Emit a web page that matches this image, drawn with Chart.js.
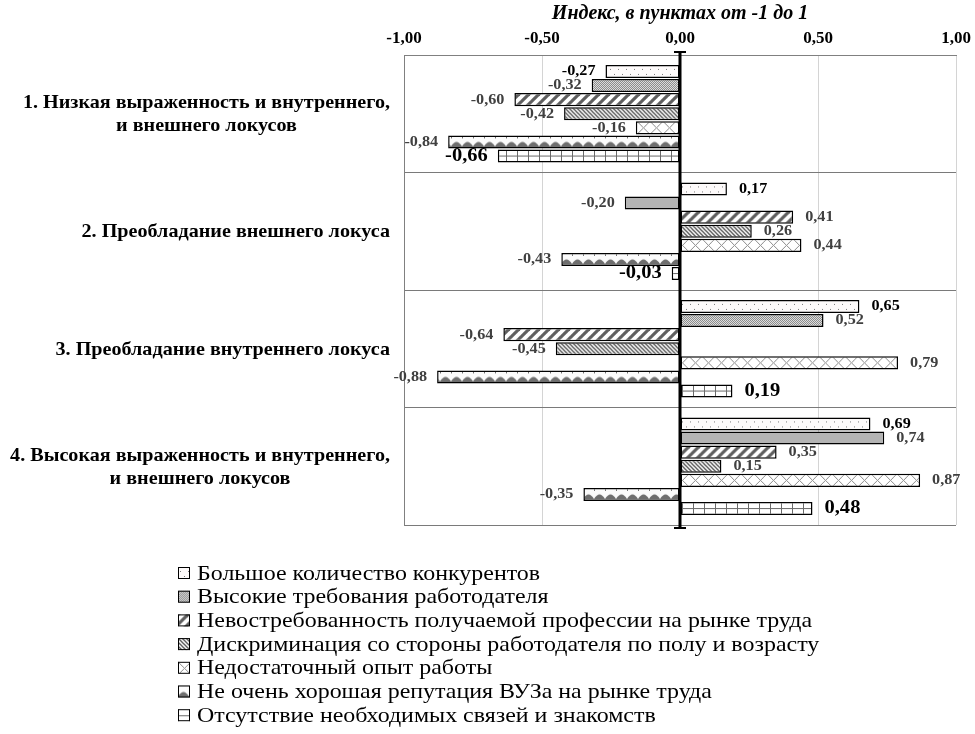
<!DOCTYPE html>
<html><head><meta charset="utf-8">
<script src="https://cdn.jsdelivr.net/npm/chart.js@4.4.1/dist/chart.umd.min.js"></script>
<style>html,body{margin:0;padding:0;background:#fff}#wrap{width:975px;height:734px;position:relative}</style>
</head><body><div id="wrap"><canvas id="c" width="975" height="734"></canvas></div>
<script>
const categories = [
  ["1. Низкая выраженность и внутреннего,", "и внешнего локусов"],
  ["2. Преобладание внешнего локуса"],
  ["3. Преобладание внутреннего локуса"],
  ["4. Высокая выраженность и внутреннего,", "и внешнего локусов"]
];
const seriesNames = [
  "Большое количество конкурентов",
  "Высокие требования работодателя",
  "Невостребованность получаемой профессии на рынке труда",
  "Дискриминация со стороны работодателя по полу и возрасту",
  "Недостаточный опыт работы",
  "Не очень хорошая репутация ВУЗа на рынке труда",
  "Отсутствие необходимых связей и знакомств"
];
const competitors   = [-0.27, 0.17, 0.65, 0.69];
const requirements  = [-0.32, -0.20, 0.52, 0.74];
const unclaimed     = [-0.60, 0.41, -0.64, 0.35];
const discrimination= [-0.42, 0.26, -0.45, 0.15];
const experience    = [-0.16, 0.44, 0.79, 0.87];
const reputation    = [-0.84, -0.43, -0.88, -0.35];
const connections   = [-0.66, -0.03, 0.19, 0.48];
const xTicks = [-1, -0.5, 0, 0.5, 1];
const axisTitle = "Индекс, в пунктах от -1 до 1";

const tiles = [];
function tile(w, h, draw) {
  const c = document.createElement('canvas'); c.width = w; c.height = h;
  const g = c.getContext('2d'); draw(g, w, h);
  const p = document.getElementById('c').getContext('2d').createPattern(c, 'repeat');
  tiles.push({ p, h });
  return p;
}
const patterns = [
  tile(8, 13, (g,w,h)=>{ g.fillStyle='#fdfafa'; g.fillRect(0,0,w,h); g.fillStyle='#7a7a7a'; g.fillRect(2,4,1,1); g.fillRect(6,9,1,1); }),
  tile(2, 2, (g,w,h)=>{ g.fillStyle='#dcdcdc'; g.fillRect(0,0,w,h); g.fillStyle='#8c8c8c'; g.fillRect(0,0,1,1); g.fillRect(1,1,1,1); }),
  tile(10, 10, (g,w,h)=>{ g.fillStyle='#fff'; g.fillRect(0,0,w,h); g.strokeStyle='#5f5f5f'; g.lineWidth=3.2;
    for (let k=-1;k<=1;k++){ g.beginPath(); g.moveTo(k*10-2, 12); g.lineTo(k*10+12, -2); g.stroke(); } }),
  tile(4, 4, (g,w,h)=>{ g.fillStyle='#fff'; g.fillRect(0,0,w,h); g.strokeStyle='#555'; g.lineWidth=1.3;
    for (let k=-1;k<=1;k++){ g.beginPath(); g.moveTo(k*4-1, -1); g.lineTo(k*4+5, 5); g.stroke(); } }),
  tile(13, 13, (g,w,h)=>{ g.fillStyle='#fff'; g.fillRect(0,0,w,h); g.strokeStyle='#8c8c8c'; g.lineWidth=1;
    g.beginPath(); g.moveTo(0,0); g.lineTo(13,13); g.moveTo(13,0); g.lineTo(0,13); g.stroke(); }),
  tile(11, 13, (g,w,h)=>{ g.fillStyle='#fbfbfb'; g.fillRect(0,0,w,h); g.fillStyle='#6e6e6e';
    g.beginPath(); g.moveTo(0,13); g.lineTo(0,11); g.quadraticCurveTo(5.5,2,11,11); g.lineTo(11,13); g.closePath(); g.fill();
    g.fillRect(0,1,1,2); }),
  tile(11, 13, (g,w,h)=>{ g.fillStyle='#fff'; g.fillRect(0,0,w,h); g.fillStyle='#6a6a6a'; g.fillRect(0,0,1,h); g.fillRect(0,6,w,1); })
];
const seriesData = [competitors, requirements, unclaimed, discrimination, experience, reputation, connections];
const labelStyle = [
  {color:'#000', size:15},
  {color:'#404040', size:15},
  {color:'#404040', size:15},
  {color:'#404040', size:15},
  {color:'#404040', size:15},
  {color:'#404040', size:15},
  {color:'#000', size:19}
];
const fmt = v => v.toFixed(2).replace('.', ',');
const SERIF = '"Liberation Serif","Times New Roman",serif';

function stretchText(ctx, text, x, y, sx, align) {
  const w = ctx.measureText(text).width * sx;
  let left = x;
  if (align === 'right') left = x - w; else if (align === 'center') left = x - w / 2;
  ctx.save(); ctx.textAlign = 'left'; ctx.translate(left, y); ctx.scale(sx, 1); ctx.fillText(text, 0, 0); ctx.restore();
}

const plugin = {
  id: 'extras',
  beforeDatasetsDraw(chart) {
    const ys = chart.scales.y;
    const pitch = Math.abs(ys.getPixelForValue(1) - ys.getPixelForValue(0));
    chart.data.datasets.forEach((ds, i) => {
      const el = chart.getDatasetMeta(i).data[0];
      const top = el.y - el.height / 2;
      const t = tiles[i];
      const n = Math.max(1, Math.round(pitch / t.h));
      const s = pitch / (n * t.h);
      t.p.setTransform(new DOMMatrix().translate(0, top).scale(1, s));
    });
  },
  afterDatasetsDraw(chart) {
    const ctx = chart.ctx, a = chart.chartArea, xs = chart.scales.x, ys = chart.scales.y;
    const x0 = xs.getPixelForValue(0);
    ctx.save();
    ctx.strokeStyle = '#000'; ctx.lineWidth = 3;
    ctx.beginPath(); ctx.moveTo(x0, a.top - 4); ctx.lineTo(x0, a.bottom + 4); ctx.stroke();
    ctx.lineWidth = 2;
    ctx.beginPath(); ctx.moveTo(x0 - 6, a.top - 3); ctx.lineTo(x0 + 6, a.top - 3);
    ctx.moveTo(x0 - 6, a.bottom + 3); ctx.lineTo(x0 + 6, a.bottom + 3); ctx.stroke();
    ctx.textBaseline = 'middle';
    chart.data.datasets.forEach((ds, i) => {
      const meta = chart.getDatasetMeta(i);
      const st = labelStyle[i];
      ctx.font = 'bold ' + st.size + 'px ' + SERIF;
      ctx.fillStyle = st.color;
      meta.data.forEach((el, j) => {
        const v = ds.data[j];
        if (v < 0) stretchText(ctx, fmt(v), el.x - 10, el.y, 1.08, 'right');
        else stretchText(ctx, fmt(v), el.x + 12, el.y, 1.08, 'left');
      });
    });
    ctx.font = 'bold 19px ' + SERIF; ctx.fillStyle = '#000';
    const csx = 1.06;
    categories.forEach((lines, j) => {
      const yc = ys.getPixelForValue(j);
      const mw = Math.max(...lines.map(l => ctx.measureText(l).width)) * csx;
      const cx = 390 - mw / 2;
      const lh = 23;
      lines.forEach((l, k) => stretchText(ctx, l, cx, yc + 1 + (k - (lines.length - 1) / 2) * lh, csx, 'center'));
    });
    ctx.font = '21px ' + SERIF;
    chart.data.datasets.forEach((ds, i) => {
      const y = 573 + i * 23.7;
      ctx.fillStyle = '#fff'; ctx.fillRect(178, y - 6, 12, 12);
      const t = tiles[i]; t.p.setTransform(new DOMMatrix().translate(178, y - 6));
      ctx.fillStyle = t.p; ctx.fillRect(178, y - 6, 12, 12);
      ctx.strokeStyle = '#000'; ctx.lineWidth = 1; ctx.strokeRect(178.5, y - 5.5, 11, 11);
      ctx.fillStyle = '#000'; stretchText(ctx, ds.label, 197, y + 1, 1.14, 'left');
    });
    ctx.restore();
  }
};

new Chart(document.getElementById('c'), {
  type: 'bar',
  data: {
    labels: categories.map(c => c.join(' ')),
    datasets: seriesData.map((d, i) => ({
      label: seriesNames[i], data: d, backgroundColor: patterns[i],
      borderColor: '#000', borderWidth: 1.5, borderSkipped: false,
      barPercentage: 0.93, categoryPercentage: 0.84
    }))
  },
  options: {
    indexAxis: 'y', responsive: false, animation: false,
    layout: { padding: { left: 404, right: 19, top: 0, bottom: 209 } },
    plugins: { legend: { display: false }, tooltip: { enabled: false } },
    scales: {
      x: {
        position: 'top', min: -1, max: 1,
        afterBuildTicks: s => { s.ticks = xTicks.map(v => ({ value: v })); },
        afterFit: s => { s.height = 55; s.paddingLeft = 0; s.paddingRight = 0; },
        grid: { color: '#d4d4d4', drawTicks: false, lineWidth: 1 },
        border: { color: '#808080', width: 1 },
        ticks: { padding: 6, color: '#000', font: { family: SERIF, size: 17, weight: 'bold' }, callback: v => fmt(v) },
        title: { display: true, text: axisTitle, color: '#000', padding: { top: 2, bottom: 2 },
          font: { family: SERIF, size: 20, weight: 'bold', style: 'italic' } }
      },
      y: {
        ticks: { display: false },
        grid: { offset: true, color: '#7a7a7a', drawTicks: false },
        border: { color: '#808080', width: 1 }
      }
    }
  },
  plugins: [plugin]
});
</script></body></html>
